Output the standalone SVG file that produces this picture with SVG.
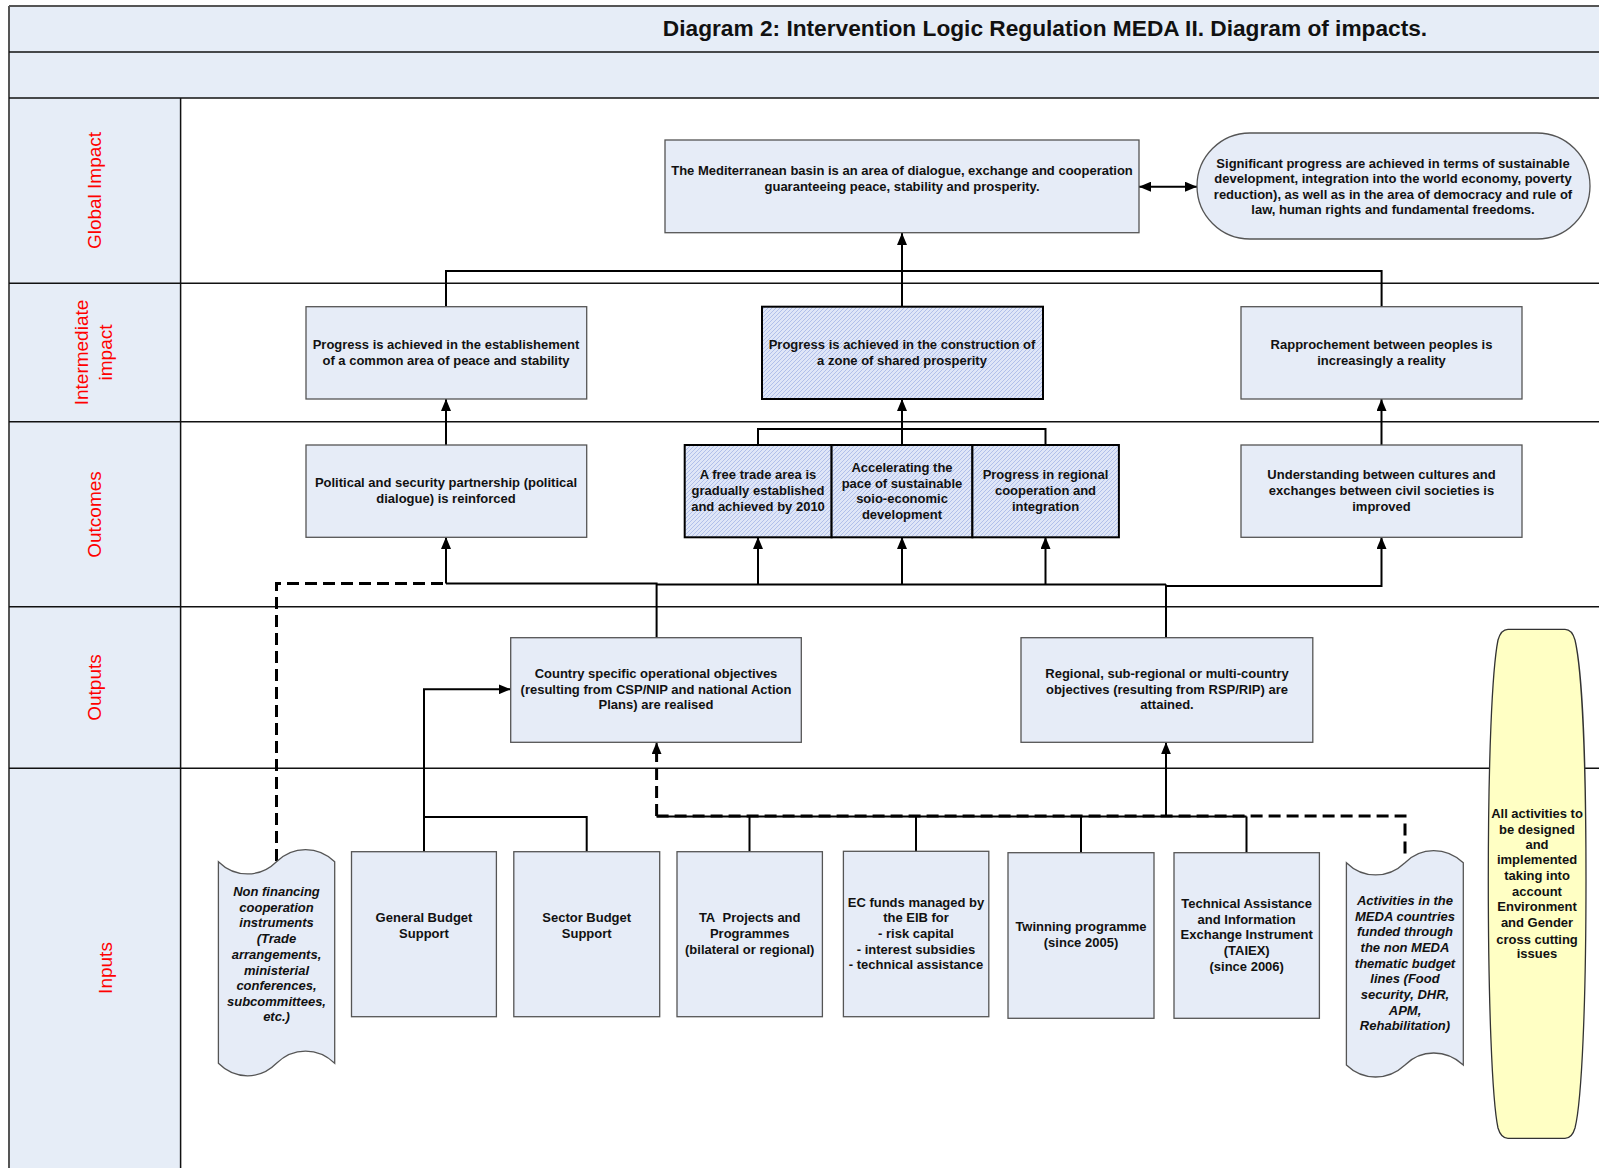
<svg xmlns="http://www.w3.org/2000/svg" width="1599" height="1168" viewBox="0 0 1599 1168">
<style>
.band{fill:#e6edf7;stroke:none}
.sep{stroke:#111;stroke-width:1.5;fill:none}
.lane{font-family:"Liberation Sans",Arial,sans-serif;font-size:19px;fill:#ff0000;text-anchor:middle}
.box{fill:#e6ecf7;stroke:#555;stroke-width:1.3}
.hbox{fill:url(#hatch);stroke:#000;stroke-width:2}
.t{font-family:"Liberation Sans",Arial,sans-serif;font-size:13px;font-weight:bold;fill:#111;text-anchor:middle}
.ti{font-style:italic}
.c{stroke:#000;stroke-width:2;fill:none}
.ca{stroke:#000;stroke-width:2;fill:none;marker-end:url(#ah)}
.d{stroke:#000;stroke-width:3;fill:none;stroke-dasharray:12 6}
.title{font-family:"Liberation Sans",Arial,sans-serif;font-size:22.7px;font-weight:bold;fill:#111;text-anchor:middle}
</style>
<defs>
<pattern id="hatch" patternUnits="userSpaceOnUse" width="4" height="4">
<rect width="4" height="4" fill="#dfe6f7"/>
<path d="M-1,1 L1,-1 M0,4 L4,0 M3,5 L5,3" stroke="#9eb0e4" stroke-width="0.7"/>
</pattern>
<marker id="ah" markerUnits="userSpaceOnUse" viewBox="0 0 12 10" markerWidth="12" markerHeight="10" refX="12" refY="5" orient="auto-start-reverse">
<path d="M0,0 L12,5 L0,10 z" fill="#000"/>
</marker>
</defs>

<g id="lanes">
<rect class="band" x="9" y="6" width="1600" height="92"/>
<rect class="band" x="9" y="98" width="171.6" height="1080"/>
<line x1="9" y1="6" x2="1599" y2="6" stroke="#555" stroke-width="2"/>
<line x1="9" y1="6" x2="9" y2="1168" stroke="#555" stroke-width="2"/>
<line class="sep" x1="9" y1="52" x2="1599" y2="52"/>
<line class="sep" x1="9" y1="98" x2="1599" y2="98"/>
<line class="sep" x1="9" y1="283.3" x2="1599" y2="283.3"/>
<line class="sep" x1="9" y1="421.7" x2="1599" y2="421.7"/>
<line class="sep" x1="9" y1="606.7" x2="1599" y2="606.7"/>
<line class="sep" x1="9" y1="768.3" x2="1599" y2="768.3"/>
<line class="sep" x1="180.6" y1="98" x2="180.6" y2="1168"/>
<text class="title" x="1045" y="35.5">Diagram 2: Intervention Logic Regulation MEDA II. Diagram of impacts.</text>
<text class="lane" transform="translate(101,190.5) rotate(-90)">Global Impact</text>
<text class="lane" transform="translate(88,352.5) rotate(-90)">Intermediate</text>
<text class="lane" transform="translate(112,352.5) rotate(-90)">impact</text>
<text class="lane" transform="translate(101,514.5) rotate(-90)">Outcomes</text>
<text class="lane" transform="translate(101,687.5) rotate(-90)">Outputs</text>
<text class="lane" transform="translate(112,968) rotate(-90)">Inputs</text>
</g>

<g id="connectors">
<path class="ca" d="M902,306.7 V233"/>
<path class="c" d="M446,306.7 V271 H1381.6 V306.7"/>
<path class="c" d="M1139,186.7 H1197" marker-start="url(#ah)" marker-end="url(#ah)"/>
<path class="ca" d="M446,445 V399"/>
<path class="ca" d="M1381.5,445 V399"/>
<path class="ca" d="M902,445 V399"/>
<path class="c" d="M758,445 V429 H1045.5 V445"/>
<path class="c" d="M446,583.5 H656.6 V637.7"/>
<path class="ca" d="M446,583.5 V537"/>
<path class="c" d="M656.6,584.5 H1166"/>
<path class="ca" d="M758,584.5 V537"/>
<path class="ca" d="M902,584.5 V537"/>
<path class="ca" d="M1045.5,584.5 V537"/>
<path class="c" d="M1166,637.7 V584.5"/>
<path class="ca" d="M1166,586 H1381.5 V537"/>
<path class="d" d="M276.5,861 V583.5 H446"/>
<path class="ca" d="M424,851.7 V689.3 H510.7"/>
<path class="c" d="M424,817 H586.7 V851.7"/>
<path class="c" d="M656.6,816.5 H1246.5"/>
<path class="c" d="M749.5,816.5 V851.7 M916,816.5 V851.3 M1081,816.5 V852.7 M1246.5,816.5 V852.7"/>
<path class="ca" d="M1166,816.5 V742.3" stroke-width="2.5"/>
<path class="d" d="M656.6,816 H1405 V858"/>
<path class="d" d="M656.6,816 V752"/>
<path class="ca" d="M656.6,755 V742.3"/>
</g>

<g id="n-global">
<rect class="box" x="665" y="140" width="474" height="92.7"/>
<text class="t" x="902" y="175.2">The Mediterranean basin is an area of dialogue, exchange and cooperation</text>
<text class="t" x="902" y="190.5">guaranteeing peace, stability and prosperity.</text>
</g>
<g id="n-significant">
<rect class="box" x="1197" y="133" width="393" height="106" rx="53" ry="53" stroke="#222"/>
<text class="t" x="1393" y="167.5">Significant progress are achieved in terms of sustainable</text>
<text class="t" x="1393" y="183">development, integration into the world economy, poverty</text>
<text class="t" x="1393" y="198.5">reduction), as well as in the area of democracy and rule of</text>
<text class="t" x="1393" y="214">law, human rights and fundamental freedoms.</text>
</g>

<g id="n-int-peace">
<rect class="box" x="306" y="306.7" width="280.7" height="92.3"/>
<text class="t" x="446" y="348.8">Progress is achieved in the establishement</text>
<text class="t" x="446" y="364.5">of a common area of peace and stability</text>
</g>
<g id="n-int-prosperity">
<rect class="hbox" x="762" y="306.7" width="281" height="92.3"/>
<text class="t" x="902" y="348.8">Progress is achieved in the construction of</text>
<text class="t" x="902" y="364.5">a zone of shared prosperity</text>
</g>
<g id="n-int-rapprochement">
<rect class="box" x="1241" y="306.7" width="281" height="92.3"/>
<text class="t" x="1381.5" y="348.8">Rapprochement between peoples is</text>
<text class="t" x="1381.5" y="364.5">increasingly a reality</text>
</g>

<g id="n-out-political">
<rect class="box" x="306" y="445" width="280.7" height="92.3"/>
<text class="t" x="446" y="487.2">Political and security partnership (political</text>
<text class="t" x="446" y="503.2">dialogue) is reinforced</text>
</g>
<g id="n-out-freetrade">
<rect class="hbox" x="684.7" y="445" width="146.9" height="92.3"/>
<text class="t" x="758" y="478.8">A free trade area is</text>
<text class="t" x="758" y="495">gradually established</text>
<text class="t" x="758" y="511">and achieved by 2010</text>
</g>
<g id="n-out-accelerating">
<rect class="hbox" x="831.6" y="445" width="140.8" height="92.3"/>
<text class="t" x="902" y="472.2">Accelerating the</text>
<text class="t" x="902" y="487.5">pace of sustainable</text>
<text class="t" x="902" y="503.3">soio-economic</text>
<text class="t" x="902" y="519">development</text>
</g>
<g id="n-out-regional">
<rect class="hbox" x="972.4" y="445" width="146.5" height="92.3"/>
<text class="t" x="1045.5" y="478.8">Progress in regional</text>
<text class="t" x="1045.5" y="495">cooperation and</text>
<text class="t" x="1045.5" y="511">integration</text>
</g>
<g id="n-out-understanding">
<rect class="box" x="1241" y="445" width="281" height="92.3"/>
<text class="t" x="1381.5" y="478.8">Understanding between cultures and</text>
<text class="t" x="1381.5" y="495">exchanges between civil societies is</text>
<text class="t" x="1381.5" y="511">improved</text>
</g>

<g id="n-country">
<rect class="box" x="510.7" y="637.7" width="290.6" height="104.6"/>
<text class="t" x="656" y="678">Country specific operational objectives</text>
<text class="t" x="656" y="694">(resulting from CSP/NIP and national Action</text>
<text class="t" x="656" y="709">Plans) are realised</text>
</g>
<g id="n-regional">
<rect class="box" x="1021" y="637.7" width="291.8" height="104.6"/>
<text class="t" x="1167" y="678">Regional, sub-regional or multi-country</text>
<text class="t" x="1167" y="694">objectives (resulting from RSP/RIP) are</text>
<text class="t" x="1167" y="709">attained.</text>
</g>

<g id="n-nonfinancing">
<path class="box" d="M218.4,861.7 C235,878 260,878 276.5,861.7 C293,845.5 318,845.5 334.7,861.7 V1063.3 C318,1047 293,1047 276.5,1063.3 C260,1080 235,1080 218.4,1063.3 Z"/>
<text class="t ti" x="276.5" y="896.2">Non financing</text>
<text class="t ti" x="276.5" y="912.2">cooperation</text>
<text class="t ti" x="276.5" y="927.2">instruments</text>
<text class="t ti" x="276.5" y="943.2">(Trade</text>
<text class="t ti" x="276.5" y="959.2">arrangements,</text>
<text class="t ti" x="276.5" y="974.5">ministerial</text>
<text class="t ti" x="276.5" y="990.2">conferences,</text>
<text class="t ti" x="276.5" y="1006.2">subcommittees,</text>
<text class="t ti" x="276.5" y="1021.2">etc.)</text>
</g>
<g id="n-gbs">
<rect class="box" x="351.5" y="851.7" width="144.9" height="165"/>
<text class="t" x="424" y="922.2">General Budget</text>
<text class="t" x="424" y="938.2">Support</text>
</g>
<g id="n-sbs">
<rect class="box" x="513.8" y="851.7" width="145.9" height="165"/>
<text class="t" x="586.7" y="922.2">Sector Budget</text>
<text class="t" x="586.7" y="938.2">Support</text>
</g>
<g id="n-ta">
<rect class="box" x="677" y="851.7" width="145.4" height="165"/>
<text class="t" x="749.7" y="922.2">TA&#160; Projects and</text>
<text class="t" x="749.7" y="938.2">Programmes</text>
<text class="t" x="749.7" y="954.2">(bilateral or regional)</text>
</g>
<g id="n-eib">
<rect class="box" x="843.4" y="851.3" width="145.4" height="165.4"/>
<text class="t" x="916" y="907.2">EC funds managed by</text>
<text class="t" x="916" y="922.2">the EIB for</text>
<text class="t" x="916" y="938.2">- risk capital</text>
<text class="t" x="916" y="954.2">- interest subsidies</text>
<text class="t" x="916" y="969.2">- technical assistance</text>
</g>
<g id="n-twinning">
<rect class="box" x="1008" y="852.7" width="146" height="165.6"/>
<text class="t" x="1081" y="931.2">Twinning programme</text>
<text class="t" x="1081" y="947.2">(since 2005)</text>
</g>
<g id="n-taiex">
<rect class="box" x="1174" y="852.7" width="145.4" height="165.6"/>
<text class="t" x="1246.7" y="907.8">Technical Assistance</text>
<text class="t" x="1246.7" y="923.8">and Information</text>
<text class="t" x="1246.7" y="939.2">Exchange Instrument</text>
<text class="t" x="1246.7" y="955.2">(TAIEX)</text>
<text class="t" x="1246.7" y="971.2">(since 2006)</text>
</g>
<g id="n-activities">
<path class="box" d="M1346.4,862.7 C1363,879 1388,879 1405,862.7 C1421,846.5 1446,846.5 1463.3,862.7 V1065 C1446,1049 1421,1049 1405,1065 C1388,1081 1363,1081 1346.4,1065 Z"/>
<text class="t ti" x="1405" y="905.2">Activities in the</text>
<text class="t ti" x="1405" y="921.2">MEDA countries</text>
<text class="t ti" x="1405" y="935.8">funded through</text>
<text class="t ti" x="1405" y="951.8">the non MEDA</text>
<text class="t ti" x="1405" y="967.8">thematic budget</text>
<text class="t ti" x="1405" y="983.2">lines (Food</text>
<text class="t ti" x="1405" y="999.2">security, DHR,</text>
<text class="t ti" x="1405" y="1014.8">APM,</text>
<text class="t ti" x="1405" y="1030.2">Rehabilitation)</text>
</g>
<g id="n-crosscutting">
<path d="M1508,629.3 H1565 Q1572,629.3 1575,640 C1582,670 1586,760 1586,880 C1586,1000 1582,1100 1575,1128 Q1572,1138.3 1565,1138.3 H1508 Q1501,1138.3 1498,1128 C1492,1100 1488.3,1000 1488.3,880 C1488.3,760 1492,670 1498,640 Q1501,629.3 1508,629.3 Z" fill="#ffffc4" stroke="#333" stroke-width="1.3"/>
<text class="t" x="1537" y="817.8">All activities to</text>
<text class="t" x="1537" y="833.5">be designed</text>
<text class="t" x="1537" y="849.2">and</text>
<text class="t" x="1537" y="864.2">implemented</text>
<text class="t" x="1537" y="880.2">taking into</text>
<text class="t" x="1537" y="896.2">account</text>
<text class="t" x="1537" y="911.2">Environment</text>
<text class="t" x="1537" y="927.2">and Gender</text>
<text class="t" x="1537" y="943.5">cross cutting</text>
<text class="t" x="1537" y="958.2">issues</text>
</g>
</svg>
